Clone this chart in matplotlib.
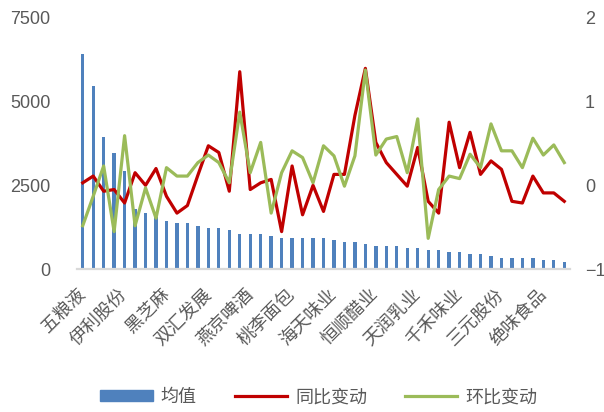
import numpy as np
import matplotlib.pyplot as plt
from matplotlib.patches import Patch
from matplotlib.lines import Line2D

plt.rcParams['font.family'] = ['Noto Sans CJK SC', 'DejaVu Sans']

# tick labels shown every 4th category
labels = ['五粮液', '伊利股份', '黑芝麻', '双汇发展', '燕京啤酒', '桃李面包',
          '海天味业', '恒顺醋业', '天润乳业', '千禾味业', '三元股份', '绝味食品']
label_step = 4

mean_val = [6400, 5450, 3950, 3470, 2930, 1790, 1670, 1550, 1430, 1370,
            1370, 1300, 1245, 1245, 1185, 1065, 1065, 1065, 1005, 945,
            945, 945, 945, 945, 885, 825, 825, 765, 705, 705,
            705, 645, 645, 585, 585, 525, 525, 465, 465, 405,
            345, 345, 345, 345, 285, 285, 225]

yoy = [0.03, 0.11, -0.07, -0.05, -0.21, 0.15, 0.0, 0.2, -0.13, -0.33,
       -0.24, 0.12, 0.47, 0.39, -0.07, 1.35, -0.05, 0.03, 0.07, -0.55,
       0.23, -0.35, 0.0, -0.31, 0.13, 0.13, 0.83, 1.39, 0.51, 0.27,
       0.13, -0.01, 0.45, -0.19, -0.33, 0.75, 0.21, 0.63, 0.13, 0.29,
       0.19, -0.19, -0.21, 0.11, -0.09, -0.09, -0.19]

mom = [-0.48, -0.13, 0.23, -0.55, 0.59, -0.48, -0.03, -0.39, 0.21, 0.11,
       0.11, 0.27, 0.36, 0.27, 0.03, 0.87, 0.15, 0.51, -0.33, 0.15,
       0.41, 0.33, 0.03, 0.47, 0.35, -0.01, 0.35, 1.37, 0.36, 0.55,
       0.58, 0.15, 0.79, -0.63, -0.05, 0.11, 0.08, 0.37, 0.21, 0.73,
       0.41, 0.41, 0.21, 0.56, 0.36, 0.48, 0.27]

x = np.arange(len(mean_val))
blue = '#4F81BD'
red = '#C00000'
green = '#9BBB59'
grey_txt = '#595959'

fig = plt.figure(figsize=(6.04, 4.12), dpi=100)
ax = fig.add_axes([0.1283, 0.3459, 0.8146, 0.6128])
ax2 = ax.twinx()

ax.bar(x, mean_val, width=0.32, color=blue, zorder=2)
ax2.plot(x, yoy, color=red, lw=2.3, solid_joinstyle='round')
ax2.plot(x, mom, color=green, lw=2.3, solid_joinstyle='round')

ax.set_xlim(-0.5, len(mean_val) - 0.5)
ax.set_ylim(0, 7500)
ax2.set_ylim(-1, 2)

ax.set_yticks([0, 2500, 5000, 7500])
ax2.set_yticks([-1, 0, 1, 2])
ax.set_xticks(x[::label_step])
ax.set_xticklabels(labels, rotation=45, ha='right', va='center',
                   rotation_mode='anchor', fontsize=13, color=grey_txt)

for a in (ax, ax2):
    for s in a.spines.values():
        s.set_visible(False)
ax.spines['bottom'].set_visible(True)
ax.spines['bottom'].set_color('#D9D9D9')
ax.spines['bottom'].set_linewidth(1.6)

ax.tick_params(axis='x', length=0, pad=16)
ax.tick_params(axis='y', length=0, pad=19.5, labelsize=13, labelcolor=grey_txt)
ax2.tick_params(axis='y', length=0, pad=11, labelsize=13, labelcolor=grey_txt)
for t in ax.get_yticklabels() + ax2.get_yticklabels():
    t.set_family(['Liberation Sans', 'DejaVu Sans'])

handles = [Patch(color=blue), Line2D([], [], color=red, lw=2.3),
           Line2D([], [], color=green, lw=2.3)]
fig.legend(handles, ['均值', '同比变动', '环比变动'], loc='center',
           bbox_to_anchor=(0.528, 0.036), ncol=3, frameon=False,
           fontsize=13, handlelength=2.9, handleheight=0.55,
           handletextpad=0.45, columnspacing=2.1, labelcolor=grey_txt)

fig.savefig('out.png', dpi=100)
